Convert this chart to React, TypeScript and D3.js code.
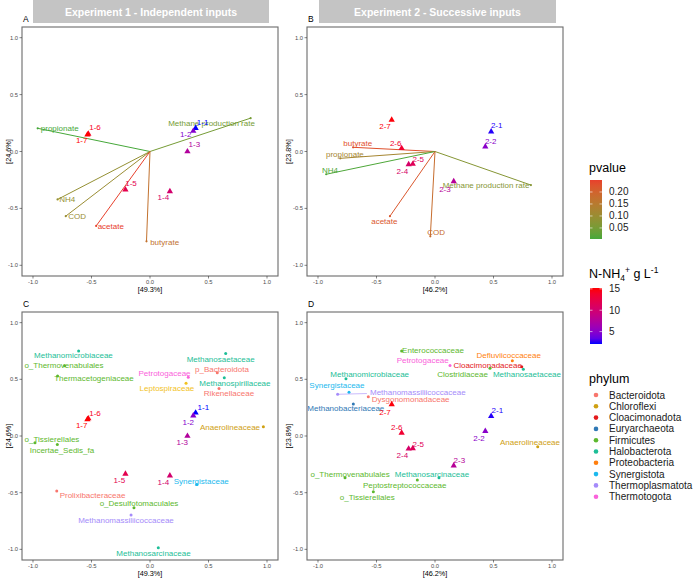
import React from "react";
import * as d3 from "d3";

const FONT = "'Liberation Sans', Arial, Helvetica, sans-serif";

// ---------- Experiment 1 samples ----------
const samples1 = ["1-1", "1-2", "1-3", "1-4", "1-5", "1-6", "1-7"];
const samples1X = [0.39, 0.37, 0.32, 0.17, -0.21, -0.527, -0.535];
const samples1Y = [0.205, 0.18, 0.0, -0.35, -0.335, 0.154, 0.147];
const samples1NH4 = [2.1, 4.8, 7.5, 10.2, 12.0, 14.4, 15.2];
const samples1LabAX = [0.45, 0.305, 0.379, 0.114, -0.162, -0.47, -0.584];
const samples1LabAY = [0.254, 0.145, 0.063, -0.407, -0.28, 0.207, 0.093];
const samples1LabCX = [0.456, 0.327, 0.276, 0.114, -0.262, -0.47, -0.584];
const samples1LabCY = [0.254, 0.121, -0.059, -0.409, -0.395, 0.2, 0.091];

// ---------- Experiment 2 samples ----------
const samples2 = ["2-1", "2-2", "2-3", "2-4", "2-5", "2-6", "2-7"];
const samples2X = [0.48, 0.43, 0.16, -0.225, -0.19, -0.285, -0.37];
const samples2Y = [0.175, 0.042, -0.262, -0.113, -0.11, 0.028, 0.278];
const samples2NH4 = [2.3, 5.0, 7.8, 10.5, 11.5, 13.5, 15.0];
const samples2LabBX = [0.527, 0.476, 0.085, -0.279, -0.143, -0.336, -0.427];
const samples2LabBY = [0.227, 0.086, -0.33, -0.172, -0.066, 0.072, 0.218];
const samples2LabDX = [0.533, 0.376, 0.208, -0.279, -0.143, -0.327, -0.427];
const samples2LabDY = [0.221, -0.02, -0.217, -0.174, -0.071, 0.077, 0.209];

// ---------- Environmental vectors ----------
const vars1 = ["propionate", "Methane production rate", "NH4", "COD", "acetate", "butyrate"];
const vars1X = [-0.96, 0.86, -0.79, -0.72, -0.46, -0.03];
const vars1Y = [0.204, 0.293, -0.421, -0.568, -0.654, -0.789];
const vars1P = [0.004, 0.05, 0.09, 0.1, 0.25, 0.17];
const vars1LabX = [-0.772, 0.526, -0.707, -0.622, -0.335, 0.125];
const vars1LabY = [0.199, 0.242, -0.419, -0.574, -0.663, -0.8];

const vars2 = ["butyrate", "propionate", "NH4", "Methane production rate", "acetate", "COD"];
const vars2X = [-0.7, -0.81, -0.93, 0.82, -0.385, -0.04];
const vars2Y = [0.037, -0.06, -0.2, -0.295, -0.568, -0.745];
const vars2P = [0.23, 0.12, 0.01, 0.07, 0.22, 0.18];
const vars2LabX = [-0.66, -0.77, -0.897, 0.436, -0.433, 0.009];
const vars2LabY = [0.072, -0.025, -0.169, -0.3, -0.618, -0.712];

// ---------- Families, panel C ----------
const famC = ["Methanomicrobiaceae", "o_Thermovenabulales", "Thermacetogeniaceae", "Methanosaetaceae", "p_Bacteroidota", "Petrotogaceae", "Methanospirillaceae", "Leptospiraceae", "Rikenellaceae", "Anaerolineaceae", "o_Tissierellales", "Incertae_Sedis_fa", "Synergistaceae", "Prolixibacteraceae", "o_Desulfotomaculales", "Methanomassiliicoccaceae", "Methanosarcinaceae"];
const famCPhylum = ["Halobacterota", "Firmicutes", "Firmicutes", "Halobacterota", "Bacteroidota", "Thermotogota", "Halobacterota", "Spirochaetota", "Bacteroidota", "Chloroflexi", "Firmicutes", "Firmicutes", "Synergistota", "Bacteroidota", "Firmicutes", "Thermoplasmatota", "Halobacterota"];
const famCX = [-0.61, -0.73, -0.79, 0.647, 0.575, 0.327, 0.635, 0.308, 0.59, 0.969, -0.983, -0.792, 0.399, -0.797, -0.137, -0.162, 0.071];
const famCY = [0.75, 0.62, 0.53, 0.728, 0.559, 0.518, 0.515, 0.465, 0.42, 0.082, -0.059, -0.074, -0.427, -0.486, -0.633, -0.698, -0.987];
const famCLabX = [-0.654, -0.735, -0.479, 0.604, 0.615, 0.124, 0.726, 0.145, 0.675, 0.684, -0.838, -0.752, 0.438, -0.491, -0.094, -0.205, 0.03];
const famCLabY = [0.707, 0.623, 0.506, 0.678, 0.589, 0.554, 0.466, 0.415, 0.371, 0.077, -0.027, -0.124, -0.398, -0.521, -0.595, -0.742, -1.036];

// ---------- Families, panel D ----------
const famD = ["Enterococcaceae", "Defluviicoccaceae", "Petrotogaceae", "Cloacimonadaceae", "Clostridiaceae", "Methanosaetaceae", "Methanomicrobiaceae", "Synergistaceae", "Methanomassiliicoccaceae", "Dysgonomonadaceae", "Methanobacteriaceae", "Anaerolineaceae", "o_Thermovenabulales", "Methanosarcinaceae", "Peptostreptococcaceae", "o_Tissierellales"];
const famDPhylum = ["Firmicutes", "Proteobacteria", "Thermotogota", "Cloacimonadota", "Firmicutes", "Halobacterota", "Halobacterota", "Synergistota", "Thermoplasmatota", "Bacteroidota", "Euryarchaeota", "Chloroflexi", "Firmicutes", "Halobacterota", "Firmicutes", "Firmicutes"];
const famDX = [-0.285, 0.661, 0.128, 0.741, 0.47, 0.755, -0.761, -0.735, -0.832, -0.57, -0.698, 0.878, -0.769, 0.034, -0.151, -0.527];
const famDY = [0.751, 0.665, 0.621, 0.612, 0.598, 0.589, 0.504, 0.386, 0.368, 0.347, 0.283, -0.095, -0.368, -0.368, -0.389, -0.492];
const famDLabX = [-0.017, 0.63, -0.105, 0.45, 0.235, 0.786, -0.558, -0.838, -0.147, -0.208, -0.762, 0.812, -0.726, -0.026, -0.259, -0.579];
const famDLabY = [0.754, 0.707, 0.663, 0.618, 0.545, 0.545, 0.539, 0.444, 0.386, 0.318, 0.245, -0.059, -0.336, -0.336, -0.433, -0.542];

// ---------- Legends ----------
const phyla = ["Bacteroidota", "Chloroflexi", "Cloacimonadota", "Euryarchaeota", "Firmicutes", "Halobacterota", "Proteobacteria", "Synergistota", "Thermoplasmatota", "Thermotogota"];
const pTicks = [0.05, 0.1, 0.15, 0.2];
const pDomain = [0.004, 0.25];
const nh4Ticks = [5, 10, 15];
const nh4Domain = [2.1, 15.2];
const axisTicks = [-1, -0.5, 0, 0.5, 1];

const phylumColor: Record<string, string> = {
  Bacteroidota: "#F8766D",
  Chloroflexi: "#CFA012",
  Cloacimonadota: "#E41A1C",
  Euryarchaeota: "#2F78B5",
  Firmicutes: "#5DB82E",
  Halobacterota: "#1DBE97",
  Proteobacteria: "#FF7F0E",
  Synergistota: "#1CB9EE",
  Thermoplasmatota: "#A58BFA",
  Thermotogota: "#FA62DB",
  Spirochaetota: "#F2C21E",
};

const pColor = d3.scaleLinear<string>().domain(pDomain).range(["#46A83A", "#E8402C"]).interpolate(d3.interpolateLab).clamp(true);
const nColor = d3.scaleLinear<string>().domain(nh4Domain).range(["#0000FF", "#FF0000"]).interpolate(d3.interpolateLab).clamp(true);

const DOM = 1.094;

type PanelProps = {
  left: number; top: number; width: number; height: number;
  letter: string; xTitle: string; yTitle: string; yTitleX: number;
  children: (x: d3.ScaleLinear<number, number>, y: d3.ScaleLinear<number, number>) => React.ReactNode;
};

function Panel({ left, top, width, height, letter, xTitle, yTitle, yTitleX, children }: PanelProps) {
  const x = d3.scaleLinear().domain([-DOM, DOM]).range([left, left + width]);
  const y = d3.scaleLinear().domain([-DOM, DOM]).range([top + height, top]);
  const bottom = top + height;
  return (
    <g>
      <text x={left + 1} y={top - 5} fontSize={8.5} fontFamily={FONT} fill="#000">{letter}</text>
      <rect x={left} y={top} width={width} height={height} fill="#fff" stroke="#6b6b6b" strokeWidth={1.1} />
      {axisTicks.map((t) => (
        <g key={"x" + t}>
          <line x1={x(t)} x2={x(t)} y1={bottom} y2={bottom + 2.5} stroke="#333" strokeWidth={0.6} />
          <text x={x(t)} y={bottom + 7.5} fontSize={5.8} fill="#4d4d4d" textAnchor="middle" fontFamily={FONT}>{t.toFixed(1)}</text>
        </g>
      ))}
      {axisTicks.map((t) => (
        <g key={"y" + t}>
          <line x1={left - 2.5} x2={left} y1={y(t)} y2={y(t)} stroke="#333" strokeWidth={0.6} />
          <text x={left - 4} y={y(t) + 2} fontSize={5.8} fill="#4d4d4d" textAnchor="end" fontFamily={FONT}>{t.toFixed(1)}</text>
        </g>
      ))}
      <text x={left + width / 2} y={bottom + 16} fontSize={7.3} fill="#000" textAnchor="middle" fontFamily={FONT}>{xTitle}</text>
      <text transform={`translate(${yTitleX},${top + height / 2}) rotate(-90)`} fontSize={7.3} fill="#000" textAnchor="middle" dominantBaseline="central" fontFamily={FONT}>{yTitle}</text>
      {children(x, y)}
    </g>
  );
}

const tri = d3.symbol().type(d3.symbolTriangle).size(17)() as string;
const LABEL = 8;

function Samples({ x, y, names, xs, ys, nh4, lx, ly }: any) {
  return (
    <g>
      {names.map((n: string, i: number) => (
        <g key={n}>
          <path d={tri} transform={`translate(${x(xs[i])},${y(ys[i])})`} fill={nColor(nh4[i])} />
          <text x={x(lx[i])} y={y(ly[i])} fontSize={LABEL} fill={nColor(nh4[i])} textAnchor="middle" dominantBaseline="central" fontFamily={FONT}>{n}</text>
        </g>
      ))}
    </g>
  );
}

function Vectors({ x, y, names, xs, ys, ps, lx, ly }: any) {
  return (
    <g>
      {names.map((n: string, i: number) => (
        <g key={n}>
          <line x1={x(0)} y1={y(0)} x2={x(xs[i])} y2={y(ys[i])} stroke={pColor(ps[i])} strokeWidth={1} />
          <circle cx={x(xs[i])} cy={y(ys[i])} r={1.1} fill={pColor(ps[i])} />
          <text x={x(lx[i])} y={y(ly[i])} fontSize={LABEL} fill={pColor(ps[i])} textAnchor="middle" dominantBaseline="central" fontFamily={FONT}>{n}</text>
        </g>
      ))}
    </g>
  );
}

function Families({ x, y, names, phy, xs, ys, lx, ly }: any) {
  return (
    <g>
      {names.map((n: string, i: number) => {
        const c = phylumColor[phy[i]];
        const px = x(xs[i]), py = y(ys[i]);
        const cx = x(lx[i]), cy = y(ly[i]);
        const hw = n.length * LABEL * 0.26 + 1, hh = LABEL * 0.5;
        const dx = px - cx, dy = py - cy;
        const outside = Math.abs(dx) > hw + 10 || Math.abs(dy) > hh + 10;
        let seg = null;
        if (outside) {
          const s = Math.min(hw / Math.abs(dx || 1e-6), hh / Math.abs(dy || 1e-6));
          seg = <line x1={px} y1={py} x2={cx + dx * s} y2={cy + dy * s} stroke={c} strokeWidth={0.6} />;
        }
        return (
          <g key={n + i}>
            {seg}
            <circle cx={px} cy={py} r={1.5} fill={c} />
            <text x={cx} y={cy} fontSize={LABEL} fill={c} textAnchor="middle" dominantBaseline="central" fontFamily={FONT}>{n}</text>
          </g>
        );
      })}
    </g>
  );
}

function ColorBar({ id, left, top, w, h, domain, ticks, color, title }: any) {
  const yb = d3.scaleLinear().domain(domain).range([top + h, top]);
  const stops = d3.range(0, 1.0001, 0.1);
  return (
    <g>
      <defs>
        <linearGradient id={id} x1="0" y1="1" x2="0" y2="0">
          {stops.map((s) => (
            <stop key={s} offset={s} stopColor={color(domain[0] + s * (domain[1] - domain[0]))} />
          ))}
        </linearGradient>
      </defs>
      {title}
      <rect x={left} y={top} width={w} height={h} fill={`url(#${id})`} />
      {ticks.map((t: number) => (
        <g key={t}>
          <line x1={left} x2={left + 2.5} y1={yb(t)} y2={yb(t)} stroke="#fff" strokeWidth={0.6} />
          <line x1={left + w - 2.5} x2={left + w} y1={yb(t)} y2={yb(t)} stroke="#fff" strokeWidth={0.6} />
          <text x={left + w + 7} y={yb(t)} fontSize={10} fill="#1a1a1a" dominantBaseline="central" fontFamily={FONT}>{t === 5 || t === 10 || t === 15 ? String(t) : t.toFixed(2)}</text>
        </g>
      ))}
    </g>
  );
}

export default function App() {
  const W = 696, H = 579;
  return (
    <svg width={W} height={H} style={{ position: "absolute", left: 0, top: 0, background: "#fff" }} fontFamily={FONT}>
      <rect x={0} y={0} width={W} height={H} fill="#fff" />
      {/* strips */}
      <rect x={33} y={0} width={236} height={23} fill="#c4c4c4" />
      <text x={151} y={12} fontSize={10.5} fontWeight="bold" fill="#fff" textAnchor="middle" dominantBaseline="central" fontFamily={FONT}>Experiment 1 - Independent inputs</text>
      <rect x={319} y={0} width={237} height={23} fill="#c4c4c4" />
      <text x={437.5} y={12} fontSize={10.5} fontWeight="bold" fill="#fff" textAnchor="middle" dominantBaseline="central" fontFamily={FONT}>Experiment 2 - Successive inputs</text>

      <Panel left={22} top={27} width={256} height={249} letter="A" xTitle="[49.3%]" yTitle="[24.6%]" yTitleX={8}>
        {(x, y) => (
          <g>
            <Vectors x={x} y={y} names={vars1} xs={vars1X} ys={vars1Y} ps={vars1P} lx={vars1LabX} ly={vars1LabY} />
            <Samples x={x} y={y} names={samples1} xs={samples1X} ys={samples1Y} nh4={samples1NH4} lx={samples1LabAX} ly={samples1LabAY} />
          </g>
        )}
      </Panel>
      <Panel left={307} top={27} width={256} height={249} letter="B" xTitle="[46.2%]" yTitle="[23.8%]" yTitleX={288}>
        {(x, y) => (
          <g>
            <Vectors x={x} y={y} names={vars2} xs={vars2X} ys={vars2Y} ps={vars2P} lx={vars2LabX} ly={vars2LabY} />
            <Samples x={x} y={y} names={samples2} xs={samples2X} ys={samples2Y} nh4={samples2NH4} lx={samples2LabBX} ly={samples2LabBY} />
          </g>
        )}
      </Panel>
      <Panel left={22} top={312} width={256} height={248} letter="C" xTitle="[49.3%]" yTitle="[24.6%]" yTitleX={8}>
        {(x, y) => (
          <g>
            <Families x={x} y={y} names={famC} phy={famCPhylum} xs={famCX} ys={famCY} lx={famCLabX} ly={famCLabY} />
            <Samples x={x} y={y} names={samples1} xs={samples1X} ys={samples1Y} nh4={samples1NH4} lx={samples1LabCX} ly={samples1LabCY} />
          </g>
        )}
      </Panel>
      <Panel left={307} top={312} width={256} height={248} letter="D" xTitle="[46.2%]" yTitle="[23.8%]" yTitleX={288}>
        {(x, y) => (
          <g>
            <Families x={x} y={y} names={famD} phy={famDPhylum} xs={famDX} ys={famDY} lx={famDLabX} ly={famDLabY} />
            <Samples x={x} y={y} names={samples2} xs={samples2X} ys={samples2Y} nh4={samples2NH4} lx={samples2LabDX} ly={samples2LabDY} />
          </g>
        )}
      </Panel>

      {/* legends */}
      <ColorBar id="gp" left={590} top={180} w={12} h={59} domain={pDomain} ticks={pTicks} color={pColor}
        title={<text x={589} y={172} fontSize={12.5} fill="#000" fontFamily={FONT}>pvalue</text>} />
      <ColorBar id="gn" left={590} top={288} w={12} h={56} domain={nh4Domain} ticks={nh4Ticks} color={nColor}
        title={<text x={589} y={278} fontSize={12.5} fill="#000" fontFamily={FONT}>N-NH<tspan fontSize={8.5} dy={3}>4</tspan><tspan fontSize={8.5} dy={-8}>+</tspan><tspan dy={5}> g L</tspan><tspan fontSize={8.5} dy={-5}>-1</tspan></text>} />
      <text x={589} y={383} fontSize={12.5} fill="#000" fontFamily={FONT}>phylum</text>
      {phyla.map((p, i) => (
        <g key={p}>
          <circle cx={596} cy={395 + i * 11.3} r={2.3} fill={phylumColor[p]} />
          <text x={609} y={395 + i * 11.3} fontSize={10} fill="#1a1a1a" dominantBaseline="central" fontFamily={FONT}>{p}</text>
        </g>
      ))}
    </svg>
  );
}
